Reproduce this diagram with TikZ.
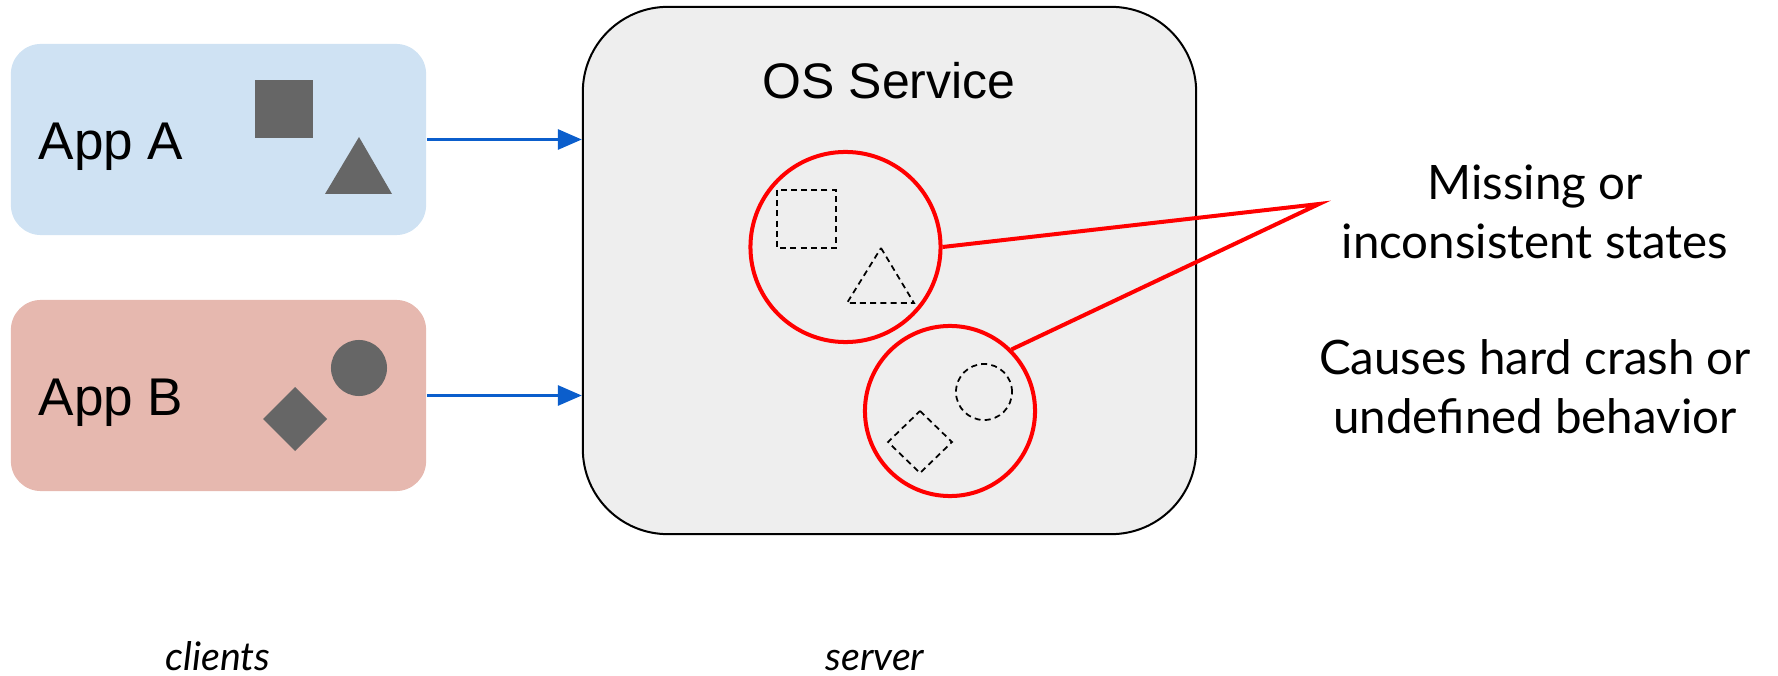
\documentclass[tikz,border=0pt]{standalone}
\usepackage{fontspec}
\newfontfamily\appfont{Liberation Sans}
\newfontfamily\notefont{Lato}
\usetikzlibrary{arrows.meta}
\definecolor{appAblue}{HTML}{CFE2F3}
\definecolor{appBred}{HTML}{E6B8AF}
\definecolor{shapegray}{HTML}{666666}
\definecolor{servicegray}{HTML}{EEEEEE}
\definecolor{callblue}{HTML}{0B5ECC}
\definecolor{faultred}{HTML}{FF0000}

\begin{document}
\begin{tikzpicture}[
    x=0.01cm, y=-0.01cm,
    appbox/.style={
        rectangle, rounded corners=0.3cm,
        minimum width=4.15cm, minimum height=1.91cm, inner sep=0pt
    },
    apptext/.style={font=\appfont\fontsize{15.1}{18}\selectfont, inner sep=0pt, anchor=base west},
    servicebox/.style={
        rectangle, draw=black, line width=0.57pt, fill=servicegray,
        rounded corners=0.85cm, minimum width=6.13cm, minimum height=5.27cm, inner sep=0pt
    },
    faultcircle/.style={circle, draw=faultred, line width=1.14pt, inner sep=0pt},
    lost/.style={draw=black, line width=0.5pt, dash pattern=on 1.7pt off 1.2pt},
    callarrow/.style={-{Triangle[length=0.24cm, width=0.2cm]}, line width=0.85pt, draw=callblue, fill=callblue},
    faultline/.style={draw=faultred, line width=1.14pt},
    notetext/.style={font=\notefont\fontsize{13.5}{16.8}\selectfont, align=center, inner sep=0pt},
    sidetext/.style={font=\notefont\itshape\fontsize{11.2}{13}\selectfont, inner sep=0pt, anchor=base}
]
\useasboundingbox (0,0) rectangle (1778,676);

% Clients
\node[appbox, fill=appAblue] (appA) at (218.5,139.5) {};
\node[apptext] (appAtext) at (38,160) {App A};
\fill[shapegray] (255,80) rectangle (313,138);
\fill[shapegray] (359,137) -- (392,194) -- (325,194) -- cycle;

\node[appbox, fill=appBred] (appB) at (218.5,395.5) {};
\node[apptext] (appBtext) at (38,416) {App B};
\fill[shapegray] (359,368) circle[radius=0.28cm];
\fill[shapegray] (295,387) -- (327,419) -- (295,451) -- (263,419) -- cycle;

% Server
\node[servicebox] (service) at (889.5,270.5) {};
\node[font=\appfont\fontsize{14.2}{17}\selectfont, inner sep=0pt, anchor=base] (servicetext) at (889,99) {OS Service};

\node[faultcircle, minimum size=1.9cm] (bad1) at (845.5,247) {};
\draw[lost] (777,190) rectangle (836,248);
\draw[lost] (881,248) -- (914,303) -- (847,303) -- cycle;

\node[faultcircle, minimum size=1.7cm] (bad2) at (950,411) {};
\draw[lost] (984,392) circle[radius=0.28cm];
\draw[lost] (920,411) -- (952,442) -- (920,473) -- (888,442) -- cycle;

% Arrows
\draw[callarrow] (appA.east) -- (appA.east -| service.west);
\draw[callarrow] (appB.east) -- (appB.east -| service.west);

% Notes
\coordinate (apex) at (1319,204);
\draw[faultline] (bad1.east) -- (apex) -- (bad2.45);
\node[notetext] (missing) at (1535,212) {Missing or\\inconsistent states};
\node[notetext] (crash) at (1535,387) {Causes hard crash or\\undefined behavior};

% Labels
\node[sidetext] (clients) at (218,670) {clients};
\node[sidetext] (server) at (875,670) {server};

\end{tikzpicture}
\end{document}
